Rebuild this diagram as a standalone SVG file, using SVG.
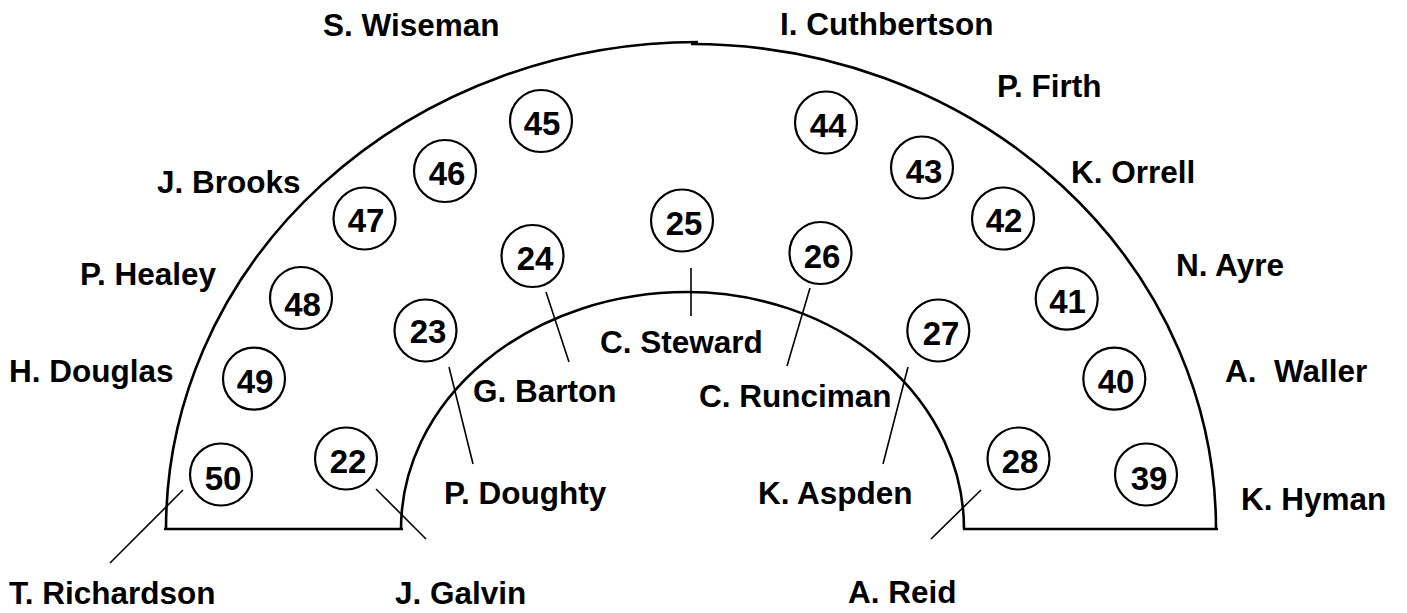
<svg xmlns="http://www.w3.org/2000/svg" width="1407" height="613" viewBox="0 0 1407 613">
<style>
text{font-family:"Liberation Sans",Arial,sans-serif;font-weight:bold;font-size:31.5px;fill:#000;white-space:pre}
.num{text-anchor:middle;font-size:33px}
.seat{fill:#fff;stroke:#000;stroke-width:2.2}
.wall{fill:none;stroke:#000;stroke-width:2.6}
.lead{stroke:#000;stroke-width:1.6;fill:none}
</style>
<rect width="1407" height="613" fill="#fff"/>
<g id="chamber">
<path class="wall" d="M166,529 A532,487 0 0 1 698,42"/>
<path class="wall" d="M691,44 A525,485 0 0 1 1216,529"/>
<path class="wall" d="M401,529 A286,237 0 0 1 687,292"/>
<path class="wall" d="M687,292 A277,237 0 0 1 964,529"/>
<line class="wall" x1="164" y1="529" x2="403" y2="529"/>
<line class="wall" x1="963" y1="529" x2="1218" y2="529"/>
</g>
<g id="connectors">
<line class="lead" x1="183" y1="490" x2="110" y2="563"/>
<line class="lead" x1="376" y1="489" x2="426" y2="539"/>
<line class="lead" x1="981" y1="490" x2="931" y2="539"/>
<line class="lead" x1="449" y1="367" x2="473" y2="464"/>
<line class="lead" x1="546" y1="292" x2="569" y2="362"/>
<line class="lead" x1="691" y1="268" x2="691" y2="316"/>
<line class="lead" x1="810" y1="288" x2="787" y2="366"/>
<line class="lead" x1="908" y1="367" x2="883" y2="464"/>
</g>
<g id="seat-22"><circle class="seat" cx="346" cy="458.5" r="31"/><text class="num" x="348" y="473">22</text></g>
<g id="seat-23"><circle class="seat" cx="425.5" cy="330.5" r="31"/><text class="num" x="428" y="343">23</text></g>
<g id="seat-24"><circle class="seat" cx="532.5" cy="256" r="31"/><text class="num" x="535" y="270">24</text></g>
<g id="seat-25"><circle class="seat" cx="682" cy="220.5" r="31"/><text class="num" x="684" y="235">25</text></g>
<g id="seat-26"><circle class="seat" cx="820.5" cy="253" r="31"/><text class="num" x="822" y="268">26</text></g>
<g id="seat-27"><circle class="seat" cx="938.3" cy="330.5" r="31"/><text class="num" x="941" y="345">27</text></g>
<g id="seat-28"><circle class="seat" cx="1018.5" cy="458.5" r="31"/><text class="num" x="1020" y="473">28</text></g>
<g id="seat-39"><circle class="seat" cx="1146" cy="474.5" r="31"/><text class="num" x="1149" y="490">39</text></g>
<g id="seat-40"><circle class="seat" cx="1114.3" cy="378.7" r="31"/><text class="num" x="1116" y="393">40</text></g>
<g id="seat-41"><circle class="seat" cx="1066.7" cy="298.7" r="31"/><text class="num" x="1067.5" y="313">41</text></g>
<g id="seat-42"><circle class="seat" cx="1003" cy="218.5" r="31"/><text class="num" x="1004" y="232">42</text></g>
<g id="seat-43"><circle class="seat" cx="922" cy="167.5" r="31"/><text class="num" x="924" y="183">43</text></g>
<g id="seat-44"><circle class="seat" cx="826" cy="122.5" r="31"/><text class="num" x="828" y="137">44</text></g>
<g id="seat-45"><circle class="seat" cx="541" cy="121" r="31"/><text class="num" x="542" y="135">45</text></g>
<g id="seat-46"><circle class="seat" cx="445" cy="171" r="31"/><text class="num" x="447" y="185">46</text></g>
<g id="seat-47"><circle class="seat" cx="364.5" cy="218.5" r="31"/><text class="num" x="366" y="232">47</text></g>
<g id="seat-48"><circle class="seat" cx="301" cy="298" r="31"/><text class="num" x="302.5" y="316">48</text></g>
<g id="seat-49"><circle class="seat" cx="254" cy="378.7" r="31"/><text class="num" x="255" y="393">49</text></g>
<g id="seat-50"><circle class="seat" cx="221" cy="474.5" r="31"/><text class="num" x="223" y="490">50</text></g>
<g id="labels">
<text id="label-wiseman" x="323" y="36">S. Wiseman</text>
<text id="label-cuthbertson" x="780" y="35">I. Cuthbertson</text>
<text id="label-firth" x="997" y="97">P. Firth</text>
<text id="label-orrell" x="1071" y="183">K. Orrell</text>
<text id="label-brooks" x="157" y="193">J. Brooks</text>
<text id="label-healey" x="80" y="285">P. Healey</text>
<text id="label-douglas" x="9" y="382">H. Douglas</text>
<text id="label-ayre" x="1176" y="276">N. Ayre</text>
<text id="label-waller" x="1225" y="382">A.  Waller</text>
<text id="label-hyman" x="1241" y="510">K. Hyman</text>
<text id="label-richardson" x="9" y="604">T. Richardson</text>
<text id="label-galvin" x="395" y="604">J. Galvin</text>
<text id="label-reid" x="848" y="603">A. Reid</text>
<text id="label-steward" x="600" y="353">C. Steward</text>
<text id="label-barton" x="473" y="402">G. Barton</text>
<text id="label-runciman" x="699" y="407">C. Runciman</text>
<text id="label-doughty" x="444" y="504">P. Doughty</text>
<text id="label-aspden" x="758" y="504">K. Aspden</text>
</g>
</svg>
